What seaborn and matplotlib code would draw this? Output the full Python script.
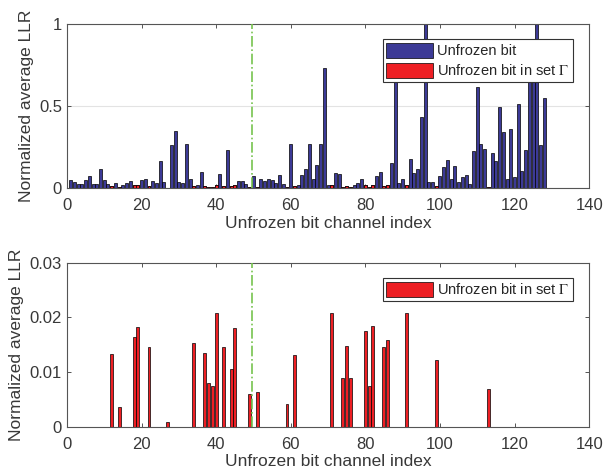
import numpy as np
import pandas as pd
import seaborn as sns
import matplotlib.pyplot as plt

# Unfrozen bit channel indices 1..128 and their normalized average LLR
bit_index = list(range(1, 129))
llr_all = [
    0.050, 0.035, 0.022, 0.022, 0.047, 0.073, 0.024, 0.024, 0.114, 0.047,
    0.022, 0.0134, 0.028, 0.0036, 0.018, 0.028, 0.040, 0.0164, 0.0182, 0.047,
    0.055, 0.0147, 0.045, 0.028, 0.165, 0.037, 0.0009, 0.265, 0.346, 0.039,
    0.028, 0.271, 0.057, 0.0153, 0.020, 0.098, 0.0135, 0.0081, 0.0075, 0.0208,
    0.083, 0.0146, 0.234, 0.0106, 0.0181, 0.045, 0.045, 0.024, 0.0061, 0.075,
    0.0064, 0.055, 0.043, 0.055, 0.046, 0.033, 0.078, 0.027, 0.0042, 0.271,
    0.0132, 0.021, 0.079, 0.114, 0.267, 0.054, 0.141, 0.268, 0.729, 0.021,
    0.0209, 0.094, 0.087, 0.0089, 0.0148, 0.0089, 0.021, 0.031, 0.056, 0.0176,
    0.0075, 0.0185, 0.074, 0.098, 0.0147, 0.0159, 0.155, 0.800, 0.028, 0.052,
    0.0209, 0.178, 0.094, 0.113, 0.430, 1.000, 0.037, 0.037, 0.0122, 0.074,
    0.128, 0.173, 0.055, 0.137, 0.037, 0.067, 0.077, 0.025, 0.226, 0.617,
    0.271, 0.238, 0.0069, 0.214, 0.164, 0.494, 0.342, 0.052, 0.358, 0.067,
    0.509, 0.105, 0.230, 0.680, 0.780, 1.000, 0.265, 0.546,
]

# Unfrozen bits in set Gamma
gamma_index = [12, 14, 18, 19, 22, 27, 34, 37, 38, 39, 40, 42, 44, 45, 49,
               51, 59, 61, 71, 74, 75, 76, 80, 81, 82, 85, 86, 91, 99, 113]
llr_gamma = [0.0134, 0.0036, 0.0164, 0.0182, 0.0147, 0.0009, 0.0153, 0.0135,
             0.0081, 0.0075, 0.0208, 0.0146, 0.0106, 0.0181, 0.0061, 0.0064,
             0.0042, 0.0132, 0.0209, 0.0089, 0.0148, 0.0089, 0.0176, 0.0075,
             0.0185, 0.0147, 0.0159, 0.0209, 0.0122, 0.0069]

split_pos = 49.5

df_all = pd.DataFrame({'idx': bit_index, 'llr': llr_all})
df_gamma = pd.DataFrame({'idx': gamma_index, 'llr': llr_gamma})

sns.set_style('ticks')
plt.rcParams['font.family'] = ['Liberation Sans', 'DejaVu Sans']
plt.rcParams['mathtext.fontset'] = 'stix'

blue = '#3c3a96'
red = '#ee1f24'
green = '#77c34f'
axcol = '#383838'

fig = plt.figure(figsize=(6.03, 4.76), dpi=100)
ax1 = fig.add_axes([0.111, 0.605, 0.866, 0.345])
ax2 = fig.add_axes([0.111, 0.103, 0.866, 0.345])

# top panel
sns.barplot(data=df_all, x='idx', y='llr', native_scale=True, width=0.8,
            color=blue, saturation=1, edgecolor='black', linewidth=0.5,
            label='Unfrozen bit', ax=ax1)
sns.barplot(data=df_gamma, x='idx', y='llr', native_scale=True, width=0.8,
            color=red, saturation=1, edgecolor='black', linewidth=0.5,
            label=r'Unfrozen bit in set $\Gamma$', ax=ax1)
ax1.axvline(split_pos, color=green, linestyle='-.', linewidth=1.2, zorder=5)
ax1.set_ylim(0, 1)
ax1.set_yticks([0, 0.5, 1])
ax1.set_yticklabels(['0', '0.5', '1'])
ax1.yaxis.grid(True, color='#e3e3e3', linewidth=0.8)
ax1.set_axisbelow(True)

# bottom panel
sns.barplot(data=df_gamma, x='idx', y='llr', native_scale=True, width=0.8,
            color=red, saturation=1, edgecolor='black', linewidth=0.5,
            label=r'Unfrozen bit in set $\Gamma$', ax=ax2)
ax2.axvline(split_pos, color=green, linestyle='-.', linewidth=1.2, zorder=5)
ax2.set_ylim(0, 0.03)
ax2.set_yticks([0, 0.01, 0.02, 0.03])
ax2.set_yticklabels(['0', '0.01', '0.02', '0.03'])

for ax in (ax1, ax2):
    ax.set_xlim(0, 140)
    ax.set_xticks(range(0, 141, 20))
    ax.set_xticklabels([str(t) for t in range(0, 141, 20)])
    ax.set_xlabel('Unfrozen bit channel index', fontsize=12.5, color=axcol, labelpad=2)
    ax.set_ylabel('Normalized average LLR', fontsize=12.5, color=axcol, labelpad=4)
    ax.tick_params(direction='in', top=True, right=True, length=3,
                   labelsize=12, colors=axcol, width=0.6)
    ax.tick_params(axis='x', pad=7)
    for s in ax.spines.values():
        s.set_visible(True)
        s.set_color('#555555')
        s.set_linewidth(0.8)
    leg = ax.legend(loc='upper right', bbox_to_anchor=(0.97, 0.905),
                    fontsize=10.5, fancybox=False, framealpha=1,
                    edgecolor='#333333', handlelength=3.2, handleheight=1.2,
                    borderaxespad=0, borderpad=0.25, labelspacing=0.3,
                    handletextpad=0.3)
    leg.get_frame().set_linewidth(0.8)

plt.savefig('out.png', dpi=100)
